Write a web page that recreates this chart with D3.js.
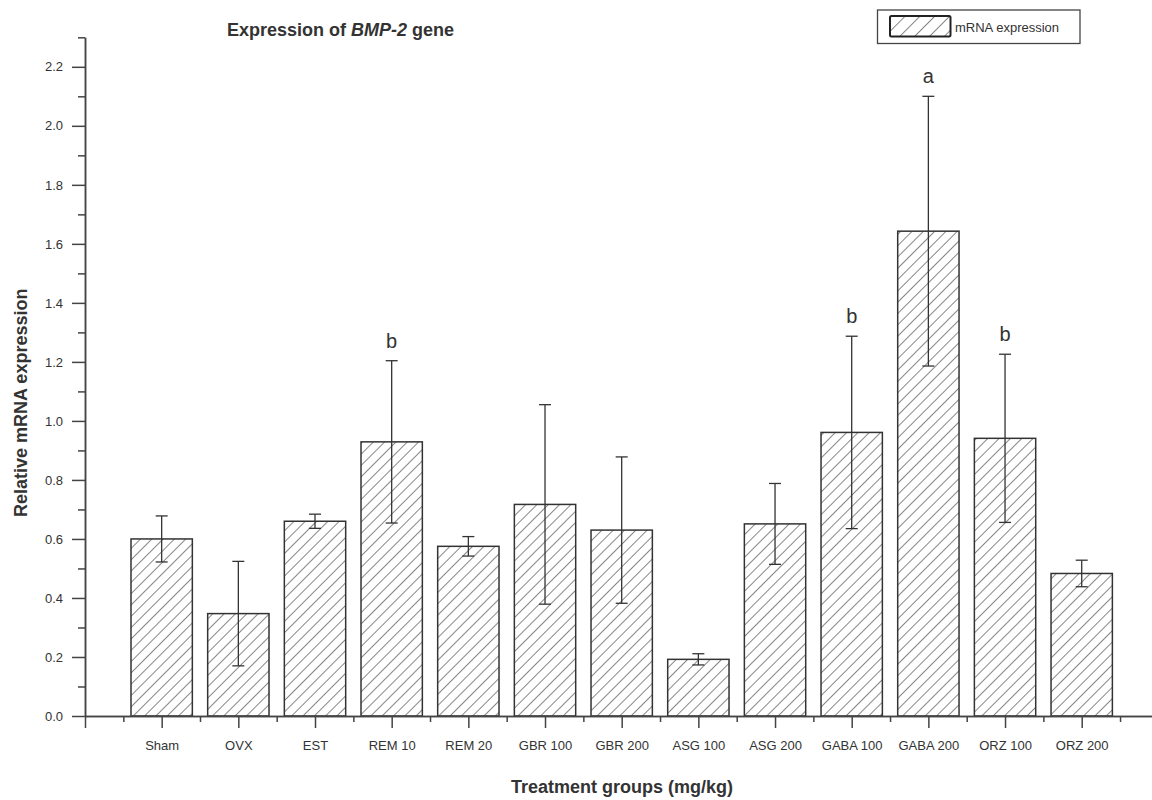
<!DOCTYPE html>
<html>
<head>
<meta charset="utf-8">
<script src="https://cdn.jsdelivr.net/npm/d3@7"></script>
<style>
  html, body { margin: 0; padding: 0; background: #fff; }
  svg { display: block; font-family: "Liberation Sans", Arial, sans-serif; }
</style>
</head>
<body>
<svg id="chart" width="1152" height="800"></svg>
<script>
// ---- data ----
const categories = ["Sham", "OVX", "EST", "REM 10", "REM 20", "GBR 100", "GBR 200",
                    "ASG 100", "ASG 200", "GABA 100", "GABA 200", "ORZ 100", "ORZ 200"];
const means  = [0.600, 0.347, 0.660, 0.929, 0.575, 0.717, 0.630, 0.192, 0.651, 0.961, 1.643, 0.941, 0.483];
const errors = [0.078, 0.177, 0.024, 0.275, 0.033, 0.338, 0.248, 0.019, 0.137, 0.326, 0.457, 0.285, 0.045];
const letters = ["", "", "", "b", "", "", "", "", "", "b", "a", "b", ""];
const yMajorTicks = [0.0, 0.2, 0.4, 0.6, 0.8, 1.0, 1.2, 1.4, 1.6, 1.8, 2.0, 2.2];
const yMinorTicks = [0.1, 0.3, 0.5, 0.7, 0.9, 1.1, 1.3, 1.5, 1.7, 1.9, 2.1, 2.3];
const seriesName = "mRNA expression";

const svg = d3.select("#chart");
const axisColor = "#444";
const textColor = "#333";

// ---- scales ----
const x = d3.scaleLinear().domain([0, 14]).range([85, 85 + 14 * 76.67]);
const y = d3.scaleLinear().domain([0, 2.3]).range([716, 37.3]);
const step = x(1) - x(0);
const barW = step * 0.8;

// ---- hatch patterns ----
const defs = svg.append("defs");
defs.append("pattern")
  .attr("id", "hatch").attr("patternUnits", "userSpaceOnUse")
  .attr("width", 8).attr("height", 8)
  .attr("patternTransform", "rotate(45)")
  .append("line").attr("x1", 0).attr("y1", 0).attr("x2", 0).attr("y2", 8)
  .attr("stroke", "#222").attr("stroke-width", 1.1);
defs.append("pattern")
  .attr("id", "hatchLegend").attr("patternUnits", "userSpaceOnUse")
  .attr("width", 10.5).attr("height", 10.5)
  .attr("patternTransform", "rotate(45)")
  .append("line").attr("x1", 0).attr("y1", 0).attr("x2", 0).attr("y2", 10.5)
  .attr("stroke", "#222").attr("stroke-width", 1.1);

// ---- bars ----
const idx = d3.range(categories.length);
svg.append("g").selectAll("rect").data(idx).join("rect")
  .attr("x", i => x(i + 1) - barW / 2)
  .attr("y", i => y(means[i]))
  .attr("width", barW)
  .attr("height", i => y(0) - y(means[i]))
  .attr("fill", "url(#hatch)")
  .attr("stroke", "#333").attr("stroke-width", 1.5);

// ---- error bars ----
const eg = svg.append("g").attr("stroke", "#333").attr("stroke-width", 1.3);
const capW = 12;
idx.forEach(i => {
  const cx = x(i + 1);
  const top = y(means[i] + errors[i]);
  const bot = y(means[i] - errors[i]);
  eg.append("line").attr("x1", cx).attr("x2", cx).attr("y1", top).attr("y2", bot);
  eg.append("line").attr("x1", cx - capW / 2).attr("x2", cx + capW / 2).attr("y1", top).attr("y2", top);
  eg.append("line").attr("x1", cx - capW / 2).attr("x2", cx + capW / 2).attr("y1", bot).attr("y2", bot);
});

// ---- significance letters ----
svg.append("g").selectAll("text").data(idx.filter(i => letters[i])).join("text")
  .attr("x", i => x(i + 1))
  .attr("y", i => y(means[i] + errors[i]) - 13)
  .attr("text-anchor", "middle")
  .attr("font-size", 20)
  .attr("fill", textColor)
  .text(i => letters[i]);

// ---- axes ----
function styleAxis(g) {
  g.select(".domain").attr("stroke", axisColor).attr("stroke-width", 1.5);
  g.selectAll(".tick line").attr("stroke", axisColor).attr("stroke-width", 1.5);
  g.selectAll(".tick text").attr("fill", textColor).attr("font-family", "Liberation Sans, Arial, sans-serif");
}

// y minor
svg.append("g").attr("transform", `translate(${x(0)},0)`)
  .call(d3.axisLeft(y).tickValues(yMinorTicks).tickSize(7).tickSizeOuter(0).tickFormat(""))
  .call(styleAxis);
// y major
svg.append("g").attr("transform", `translate(${x(0)},0)`)
  .call(d3.axisLeft(y).tickValues(yMajorTicks).tickSize(13).tickSizeOuter(0).tickPadding(9)
        .tickFormat(d3.format(".1f")))
  .call(styleAxis)
  .call(g => g.selectAll(".tick text").attr("font-size", 13));

// x minor
svg.append("g").attr("transform", `translate(0,${y(0)})`)
  .call(d3.axisBottom(x).tickValues(d3.range(0.5, 14, 1)).tickSize(6).tickSizeOuter(0).tickFormat(""))
  .call(styleAxis);
// x major
svg.append("g").attr("transform", `translate(0,${y(0)})`)
  .call(d3.axisBottom(x).tickValues(d3.range(0, 14)).tickSize(12).tickSizeOuter(0).tickPadding(13)
        .tickFormat(i => i === 0 ? "" : categories[i - 1]))
  .call(styleAxis)
  .call(g => g.selectAll(".tick text").attr("font-size", 13));

// ---- titles ----
const title = svg.append("text")
  .attr("x", 227).attr("y", 36)
  .attr("font-size", 18).attr("font-weight", "bold").attr("fill", textColor);
title.append("tspan").text("Expression of ");
title.append("tspan").attr("font-style", "italic").text("BMP-2");
title.append("tspan").text(" gene");

svg.append("text")
  .attr("transform", "translate(27,517) rotate(-90)")
  .attr("text-anchor", "start")
  .attr("font-size", 18).attr("font-weight", "bold").attr("fill", textColor)
  .text("Relative mRNA expression");

svg.append("text")
  .attr("x", 622).attr("y", 793)
  .attr("text-anchor", "middle")
  .attr("font-size", 18).attr("font-weight", "bold").attr("fill", textColor)
  .text("Treatment groups (mg/kg)");

// ---- legend ----
const lg = svg.append("g");
lg.append("rect").attr("x", 877.5).attr("y", 10).attr("width", 202.5).attr("height", 33.5)
  .attr("fill", "#fff").attr("stroke", axisColor).attr("stroke-width", 1.3);
lg.append("rect").attr("x", 890).attr("y", 16).attr("width", 60.5).attr("height", 20.5)
  .attr("rx", 1.5)
  .attr("fill", "url(#hatchLegend)").attr("stroke", "#222").attr("stroke-width", 2);
lg.append("text").attr("x", 955).attr("y", 31.5)
  .attr("font-size", 13).attr("fill", textColor).text(seriesName);
</script>
</body>
</html>
